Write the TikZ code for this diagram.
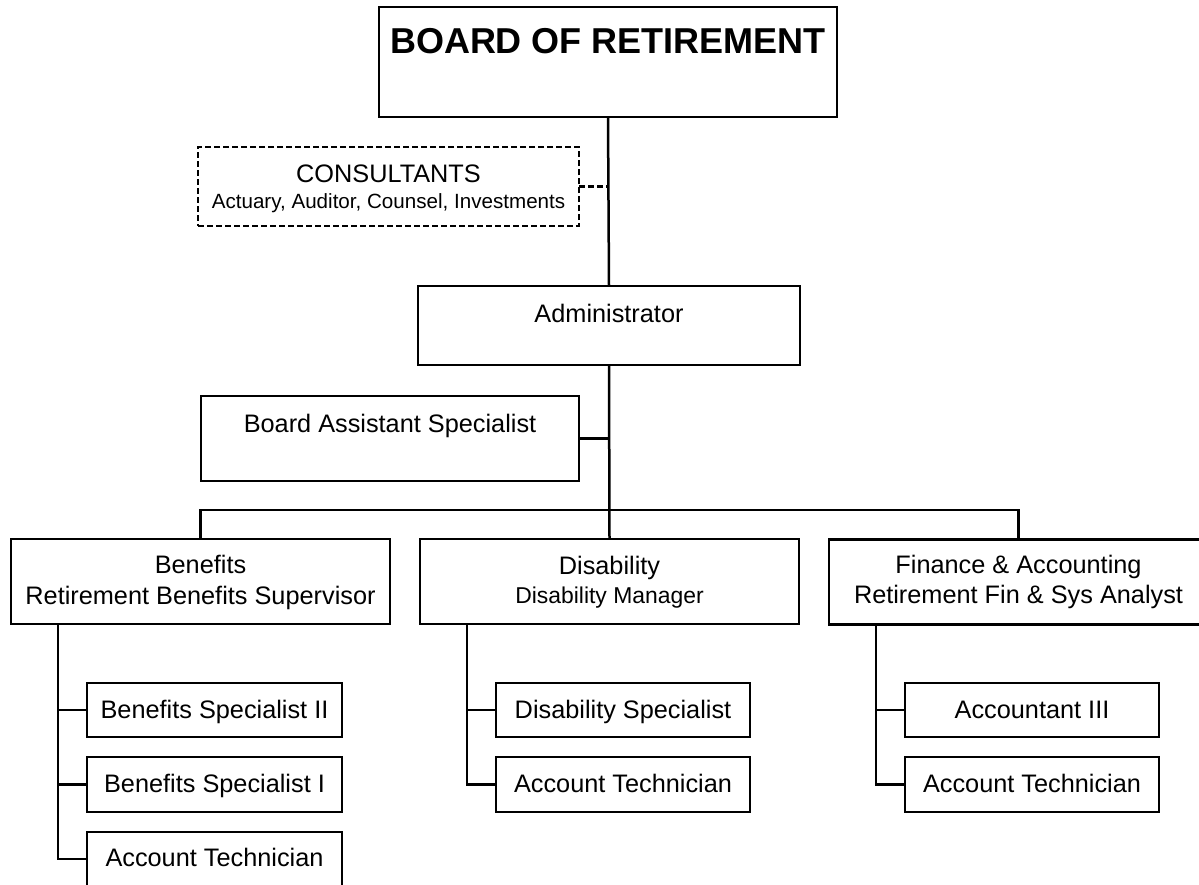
\documentclass[tikz,border=0pt]{standalone}
\usepackage{fontspec}
\setmainfont{Liberation Sans}
\begin{document}
\begin{tikzpicture}[x=1pt,y=-1pt,
  box/.style={draw, line width=2.3pt, inner sep=0pt, outer sep=0pt},
  dbox/.style={box, dash pattern=on 6pt off 3pt},
  lbl/.style={anchor=base, inner sep=0pt, font=\fontsize{25.3}{30}\selectfont},
  smalllbl/.style={anchor=base, inner sep=0pt, font=\fontsize{20.6}{24}\selectfont},
  midlbl/.style={anchor=base, inner sep=0pt, font=\fontsize{22.9}{27}\selectfont},
  titlelbl/.style={anchor=base, inner sep=0pt, font=\fontsize{36}{42}\selectfont\bfseries},
  conn/.style={line width=2.5pt},
  dconn/.style={line width=2.5pt, dash pattern=on 6pt off 3pt}]
\useasboundingbox (0,0) rectangle (1199,884);

% top level
\node[box, line width=1.6pt, minimum width=458pt, minimum height=110pt] (board) at (608,62) {};
\node[titlelbl] (boardT) at (608,53) {BOARD OF RETIREMENT};

\node[dbox, minimum width=381pt, minimum height=79pt] (cons) at (388.5,186.5) {};
\node[lbl] (consT) at (388.5,182) {CONSULTANTS};
\node[smalllbl] (consS) at (388.5,208) {Actuary, Auditor, Counsel, Investments};

\node[box, minimum width=382pt, minimum height=79pt] (admin) at (609,325.5) {};
\node[lbl] (adminT) at (609,322) {Administrator};

\node[box, minimum width=378pt, minimum height=85pt] (bas) at (390,438.5) {};
\node[lbl] (basT) at (390,432) {Board Assistant Specialist};

% departments
\node[box, minimum width=379pt, minimum height=85pt] (benef) at (200.5,581.5) {};
\node[lbl] (benefT) at (200.5,573) {Benefits};
\node[lbl] (benefS) at (200.5,604) {Retirement Benefits Supervisor};

\node[box, minimum width=379pt, minimum height=85pt] (disab) at (609.5,581.5) {};
\node[lbl] (disabT) at (609.5,574) {Disability};
\node[midlbl] (disabS) at (609.5,603) {Disability Manager};

\node[box, minimum width=379pt, minimum height=85pt] (fin) at (1018.5,582) {};
\node[lbl] (finT) at (1018.5,573) {Finance \& Accounting};
\node[lbl] (finS) at (1018.5,603) {Retirement Fin \& Sys Analyst};

% benefits staff
\node[box, minimum width=255pt, minimum height=54pt] (b1) at (214.5,710) {};
\node[lbl] (b1T) at (214.5,718) {Benefits Specialist II};
\node[box, minimum width=255pt, minimum height=55pt] (b2) at (214.5,784.5) {};
\node[lbl] (b2T) at (214.5,792) {Benefits Specialist I};
\node[box, minimum width=255pt, minimum height=54pt] (b3) at (214.5,859) {};
\node[lbl] (b3T) at (214.5,866) {Account Technician};

% disability staff
\node[box, minimum width=254pt, minimum height=54pt] (d1) at (623,710) {};
\node[lbl] (d1T) at (623,718) {Disability Specialist};
\node[box, minimum width=254pt, minimum height=55pt] (d2) at (623,784.5) {};
\node[lbl] (d2T) at (623,792) {Account Technician};

% finance staff
\node[box, minimum width=254pt, minimum height=54pt] (f1) at (1032,710) {};
\node[lbl] (f1T) at (1032,718) {Accountant III};
\node[box, minimum width=254pt, minimum height=55pt] (f2) at (1032,784.5) {};
\node[lbl] (f2T) at (1032,792) {Account Technician};

% connectors
\draw[conn] (board.south) -- (admin.north);
\draw[dconn] (cons.east) -- (cons.east -| board.south);
\draw[conn] (admin.south) -- (disab.north);
\draw[conn] (bas.east) -- (bas.east -| admin.south);
\coordinate (bus) at (609,510);
\draw[conn] (benef.north) |- (bus) -| (fin.north);

\coordinate (bt) at (58,624);
\draw[conn] (bt) |- (b3.west);
\draw[conn] (b1.west) -- (b1.west -| bt);
\draw[conn] (b2.west) -- (b2.west -| bt);

\coordinate (dt) at (467,624);
\draw[conn] (dt) |- (d2.west);
\draw[conn] (d1.west) -- (d1.west -| dt);

\coordinate (ft) at (876,625);
\draw[conn] (ft) |- (f2.west);
\draw[conn] (f1.west) -- (f1.west -| ft);
\end{tikzpicture}
\end{document}
